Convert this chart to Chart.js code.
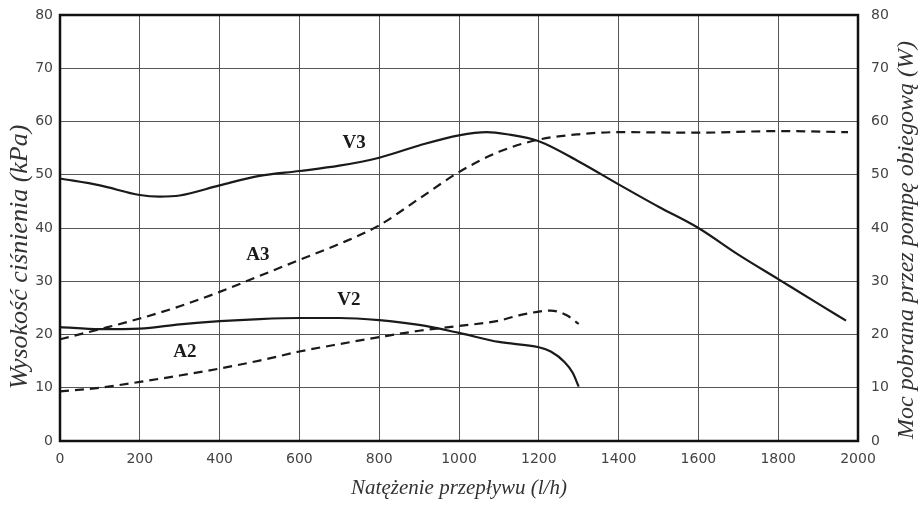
<!DOCTYPE html>
<html>
<head>
<meta charset="utf-8">
<script src="https://cdn.jsdelivr.net/npm/chart.js@4.4.1/dist/chart.umd.min.js"></script>
<style>
  html, body { margin: 0; padding: 0; background: #fff; }
  #wrap { width: 922px; height: 508px; position: relative; }
</style>
</head>
<body>
<div id="wrap"><canvas id="chart"></canvas></div>
<script>
// curves (x = l/h)
const v3X = [0, 100, 200, 250, 300, 400, 500, 600, 700, 800, 900, 1000, 1070, 1120, 1200, 1300, 1400, 1500, 1600, 1700, 1800, 1900, 1970];
const v3Y = [49.3, 48.0, 46.2, 45.9, 46.1, 48.0, 49.8, 50.7, 51.7, 53.2, 55.5, 57.4, 58.0, 57.6, 56.3, 52.5, 48.2, 44.0, 40.0, 35.0, 30.4, 25.8, 22.6];

const a3X = [0, 100, 200, 300, 400, 500, 600, 700, 800, 900, 1000, 1100, 1200, 1300, 1400, 1600, 1800, 1975];
const a3Y = [19.1, 21.0, 23.0, 25.3, 28.0, 31.0, 34.0, 37.0, 40.5, 45.5, 50.5, 54.3, 56.6, 57.6, 58.0, 57.9, 58.2, 58.0];

const v2X = [0, 100, 200, 300, 400, 500, 600, 700, 800, 900, 1000, 1100, 1200, 1230, 1265, 1285, 1300];
const v2Y = [21.4, 21.0, 21.1, 21.9, 22.5, 22.9, 23.1, 23.1, 22.7, 21.8, 20.3, 18.6, 17.6, 16.8, 14.8, 12.8, 10.2];

const a2X = [0, 100, 200, 300, 400, 500, 600, 700, 800, 900, 1000, 1100, 1150, 1200, 1230, 1270, 1300];
const a2Y = [9.3, 10.0, 11.1, 12.3, 13.6, 15.1, 16.8, 18.2, 19.5, 20.7, 21.6, 22.6, 23.6, 24.3, 24.5, 23.6, 22.0];

// curve names and where they sit (data coords)
const curveLabels = ['V3', 'A3', 'V2', 'A2'];
const labelX = [737, 496, 724, 313];
const labelY = [56.0, 34.9, 26.5, 16.7];

const xTitle = 'Natężenie przepływu (l/h)';
const yTitle = 'Wysokość ciśnienia (kPa)';
const y2Title = 'Moc pobrana przez pompę obiegową (W)';

function pts(xs, ys) {
    return xs.map((x, i) => ({ x: x, y: ys[i] }));
}

function curve(xs, ys, dashed) {
    return {
        data: pts(xs, ys),
        borderColor: '#1a1a1a',
        borderWidth: 2.2,
        borderDash: dashed ? [9, 6] : [],
        pointRadius: 0,
        fill: false,
        cubicInterpolationMode: 'monotone'
    };
}

const tickFont = { family: 'DejaVu Sans', size: 14 };
const plain = (v) => String(v);

// y scales: fixed width, no extra label padding pushing the plot down
function fitY(w) {
    return (s) => {
        s.width = w;
        s.paddingTop = 0;
        s.paddingBottom = 0;
    };
}

const extras = {
    id: 'extras',
    afterDatasetsDraw(chart) {
        const ctx = chart.ctx;
        const a = chart.chartArea;
        const xs = chart.scales.x, ys = chart.scales.y;
        ctx.save();
        // frame
        ctx.strokeStyle = '#111';
        ctx.lineWidth = 2.5;
        ctx.strokeRect(a.left, a.top, a.right - a.left, a.bottom - a.top);

        // curve labels
        ctx.fillStyle = '#1a1a1a';
        ctx.font = 'bold 19px "Liberation Serif"';
        ctx.textAlign = 'center';
        ctx.textBaseline = 'middle';
        for (let i = 0; i < curveLabels.length; i++) {
            ctx.fillText(curveLabels[i], xs.getPixelForValue(labelX[i]), ys.getPixelForValue(labelY[i]));
        }

        // vertical titles, both read bottom to top
        ctx.fillStyle = '#333';
        ctx.font = 'italic 26px "Liberation Serif"';
        ctx.translate(20, 257);
        ctx.rotate(-Math.PI / 2);
        ctx.fillText(yTitle, 0, 0);
        ctx.setTransform(1, 0, 0, 1, 0, 0);
        ctx.font = 'italic 24px "Liberation Serif"';
        ctx.translate(907, 240);
        ctx.rotate(-Math.PI / 2);
        ctx.fillText(y2Title, 0, 0);
        ctx.restore();
    }
};

new Chart('chart', {
    type: 'line',
    data: {
        datasets: [
            curve(v3X, v3Y, false),
            curve(a3X, a3Y, true),
            curve(v2X, v2Y, false),
            curve(a2X, a2Y, true)
        ]
    },
    options: {
        responsive: true,
        maintainAspectRatio: false,
        animation: false,
        layout: { padding: { top: 15, left: 0, right: 0, bottom: 0 } },
        plugins: {
            legend: { display: false },
            tooltip: { enabled: false }
        },
        scales: {
            x: {
                type: 'linear',
                min: 0,
                max: 2000,
                ticks: { stepSize: 200, color: '#444', font: tickFont, padding: 10, callback: plain },
                grid: { color: '#555', lineWidth: 1, drawTicks: false },
                border: { display: false },
                title: {
                    display: true,
                    text: xTitle,
                    color: '#333',
                    font: { family: 'Liberation Serif', size: 21, style: 'italic' },
                    padding: { top: 0, bottom: 7 }
                },
                afterFit: (s) => { s.height = 67; }
            },
            y: {
                position: 'left',
                min: 0,
                max: 80,
                ticks: { stepSize: 10, color: '#444', font: tickFont, padding: 7, callback: plain },
                grid: { color: '#555', lineWidth: 1, drawTicks: false },
                border: { display: false },
                afterFit: fitY(60)
            },
            y2: {
                position: 'right',
                min: 0,
                max: 80,
                ticks: { stepSize: 10, color: '#444', font: tickFont, padding: 13, callback: plain },
                grid: { display: false, drawTicks: false },
                border: { display: false },
                afterFit: fitY(64)
            }
        }
    },
    plugins: [extras]
});
</script>
</body>
</html>
